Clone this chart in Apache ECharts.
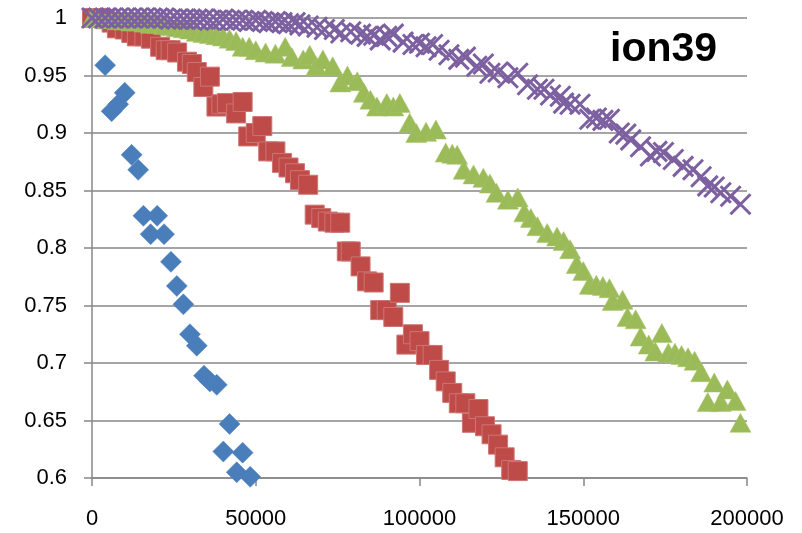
<!DOCTYPE html>
<html>
<head>
<meta charset="utf-8">
<script src="https://cdn.jsdelivr.net/npm/echarts@6/dist/echarts.min.js"></script>
<style>
  html, body { margin: 0; padding: 0; background: #ffffff; }
  #chart { width: 802px; height: 533px; }
</style>
</head>
<body>
<div id="chart"></div>
<script>
// Fraction remaining vs. count, four runs of ion39
const titleText = 'ion39';
const xTicks = { min: 0, max: 200000, step: 50000 };
const yTicks = { min: 0.6, max: 1, step: 0.05 };

const blueSeries = [
  [4000, 0.959], [6000, 0.919], [8000, 0.925], [10000, 0.935], [12100, 0.881],
  [14100, 0.868], [15700, 0.828], [17900, 0.812], [19900, 0.828], [22000, 0.812],
  [24100, 0.788], [25900, 0.767], [27900, 0.751], [29900, 0.725], [32000, 0.715],
  [34200, 0.689], [36000, 0.684], [38100, 0.681], [40100, 0.623], [42000, 0.647],
  [44200, 0.605], [46000, 0.622], [48300, 0.601]
];

const redSeries = [
  [0, 1.0], [2000, 1.0], [4000, 0.999], [6000, 0.996], [7600, 0.991], [10000, 0.99],
  [12000, 0.987], [13700, 0.984], [16000, 0.984], [18000, 0.982], [20800, 0.975],
  [22500, 0.972], [24000, 0.972], [26000, 0.97], [29000, 0.962], [30500, 0.96],
  [32000, 0.953], [34000, 0.94], [36000, 0.949], [38000, 0.923], [39500, 0.925],
  [41200, 0.926], [44000, 0.917], [46000, 0.927], [47700, 0.897], [50000, 0.9],
  [52000, 0.906], [53800, 0.884], [56000, 0.884], [58000, 0.874], [60000, 0.87],
  [62000, 0.865], [63500, 0.859], [66000, 0.855], [68000, 0.829], [70000, 0.826],
  [72000, 0.823], [74000, 0.822], [75800, 0.822], [77800, 0.797], [79000, 0.797],
  [82000, 0.784], [84000, 0.771], [86000, 0.77], [88000, 0.746], [90000, 0.746],
  [92000, 0.74], [94000, 0.761], [96000, 0.716], [98000, 0.725], [100000, 0.719],
  [102000, 0.707], [104000, 0.707], [106000, 0.694], [108000, 0.684], [110000, 0.674],
  [112000, 0.665], [114000, 0.665], [116000, 0.648], [118000, 0.66], [120000, 0.645],
  [122000, 0.638], [124000, 0.629], [126000, 0.618], [128000, 0.607], [130000, 0.606]
];

const greenSeries = [
  [0, 1.0], [2000, 1.0], [4000, 0.999], [6000, 0.999], [8000, 0.998], [10000, 0.998],
  [12000, 0.997], [14000, 0.997], [16000, 0.996], [18000, 0.995], [20000, 0.995],
  [22000, 0.994], [24000, 0.993], [26000, 0.992], [28000, 0.991], [30000, 0.99],
  [32000, 0.988], [34000, 0.987], [36000, 0.986], [38000, 0.985], [40000, 0.984],
  [42000, 0.982], [44000, 0.98], [46000, 0.975], [48000, 0.975], [50000, 0.972],
  [53000, 0.97], [56000, 0.969], [59000, 0.975], [61000, 0.966], [64500, 0.964],
  [66500, 0.968], [68500, 0.958], [70500, 0.964], [73500, 0.958], [75800, 0.944],
  [78000, 0.95], [81000, 0.945], [83000, 0.935], [85000, 0.929], [87000, 0.923],
  [90000, 0.926], [92000, 0.923], [94000, 0.926], [97000, 0.909], [99000, 0.9],
  [102000, 0.901], [105000, 0.903], [108000, 0.883], [110000, 0.882], [111500, 0.881],
  [113500, 0.868], [116500, 0.864], [119500, 0.861], [121500, 0.856], [123500, 0.848],
  [127000, 0.842], [130000, 0.844], [132000, 0.831], [134000, 0.826], [136000, 0.819],
  [139000, 0.813], [142000, 0.81], [144000, 0.806], [146000, 0.799], [148000, 0.786],
  [150000, 0.78], [152000, 0.768], [154000, 0.768], [156000, 0.767], [158000, 0.765],
  [159000, 0.754], [162000, 0.755], [163500, 0.74], [166000, 0.738], [167500, 0.723],
  [170000, 0.716], [172000, 0.71], [174000, 0.726], [176000, 0.709], [178000, 0.709],
  [180000, 0.707], [182000, 0.705], [184000, 0.702], [186000, 0.692], [188000, 0.666],
  [190000, 0.683], [192000, 0.666], [194000, 0.677], [196500, 0.667], [198000, 0.648]
];

const purpleSeries = [
  [0, 1.0], [2000, 1.0], [4000, 1.0], [6000, 1.0], [8000, 1.0], [10000, 1.0],
  [12000, 1.0], [14000, 1.0], [16000, 1.0], [18000, 1.0], [20000, 1.0], [22000, 1.0],
  [24000, 0.999], [26000, 0.999], [28000, 0.999], [30000, 0.999], [32000, 0.999],
  [34000, 0.999], [36000, 0.998], [38000, 0.998], [40000, 0.999], [42000, 0.998],
  [44000, 0.998], [46000, 0.998], [48000, 0.997], [50000, 0.998], [52000, 0.997],
  [54000, 0.996], [56000, 0.997], [58000, 0.996], [60000, 0.995], [62000, 0.996],
  [63500, 0.994], [66000, 0.993], [68700, 0.992], [71000, 0.99], [74000, 0.99],
  [76000, 0.987], [79000, 0.988], [82000, 0.986], [84000, 0.984], [86000, 0.985],
  [88000, 0.981], [90000, 0.984], [92000, 0.986], [95000, 0.979], [98000, 0.977],
  [100000, 0.978], [102000, 0.975], [104000, 0.977], [106000, 0.972], [109000, 0.968],
  [112000, 0.964], [114000, 0.966], [117500, 0.958], [119500, 0.96], [121500, 0.952],
  [124000, 0.953], [127000, 0.948], [130000, 0.952], [133000, 0.942], [136000, 0.938],
  [138000, 0.938], [140000, 0.933], [143000, 0.932], [144000, 0.926], [146000, 0.925],
  [149000, 0.925], [152000, 0.912], [154000, 0.913], [156000, 0.911], [158000, 0.912],
  [161000, 0.9], [163000, 0.899], [164500, 0.894], [167500, 0.888], [170500, 0.88],
  [172500, 0.884], [174500, 0.883], [177500, 0.877], [180500, 0.871], [183500, 0.868],
  [186000, 0.862], [188000, 0.854], [190000, 0.853], [192000, 0.848], [195000, 0.845],
  [198000, 0.838]
];

const FONT = '"Liberation Sans", Arial, sans-serif';
const GRID_GRAY = '#878787';

const chart = echarts.init(document.getElementById('chart'), null, { renderer: 'canvas' });

chart.setOption({
  animation: false,
  backgroundColor: '#ffffff',
  title: {
    text: titleText,
    left: 610,
    top: 29,
    padding: 0,
    textStyle: { fontFamily: FONT, fontSize: 41, fontWeight: 'bold', color: '#000000' }
  },
  grid: { left: 92, right: 55, top: 18, bottom: 55, containLabel: false },
  xAxis: {
    type: 'value',
    min: xTicks.min,
    max: xTicks.max,
    interval: xTicks.step,
    axisLine: { show: true, lineStyle: { color: GRID_GRAY, width: 1.5 } },
    axisTick: { show: true, inside: false, length: 8, lineStyle: { color: GRID_GRAY, width: 1.5 } },
    axisLabel: {
      fontFamily: FONT, fontSize: 22, color: '#000000', margin: 30,
      formatter: function (v) { return String(v); }
    },
    splitLine: { show: false }
  },
  yAxis: {
    type: 'value',
    min: yTicks.min,
    max: yTicks.max,
    interval: yTicks.step,
    axisLine: { show: true, lineStyle: { color: GRID_GRAY, width: 1.5 } },
    axisTick: { show: true, inside: false, length: 8, lineStyle: { color: GRID_GRAY, width: 1.5 } },
    axisLabel: {
      fontFamily: FONT, fontSize: 22, color: '#000000', margin: 25,
      formatter: function (v) { return String(parseFloat(v.toFixed(2))); }
    },
    splitLine: { show: true, lineStyle: { color: GRID_GRAY, width: 1.5 } }
  },
  series: [
    {
      type: 'scatter',
      data: blueSeries,
      symbol: 'diamond',
      symbolSize: [21, 21],
      clip: false,
      itemStyle: { color: '#4A7EBB', borderColor: '#4F81BD', borderWidth: 0.5, opacity: 1 }
    },
    {
      type: 'scatter',
      data: redSeries,
      symbol: 'rect',
      symbolSize: 19,
      clip: false,
      itemStyle: { color: '#BE4B48', borderColor: '#CD7573', borderWidth: 1, opacity: 1 }
    },
    {
      type: 'scatter',
      data: greenSeries,
      symbol: 'triangle',
      symbolSize: [21, 19],
      clip: false,
      itemStyle: { color: '#9BBB59', borderColor: '#A6C36A', borderWidth: 0.5, opacity: 1 }
    },
    {
      type: 'scatter',
      data: purpleSeries,
      symbol: 'path://M0,0 L10,10 M10,0 L0,10',
      symbolSize: 20,
      clip: false,
      itemStyle: { color: 'none', borderColor: '#7D60A0', borderWidth: 3, opacity: 1 }
    }
  ]
});
</script>
</body>
</html>
